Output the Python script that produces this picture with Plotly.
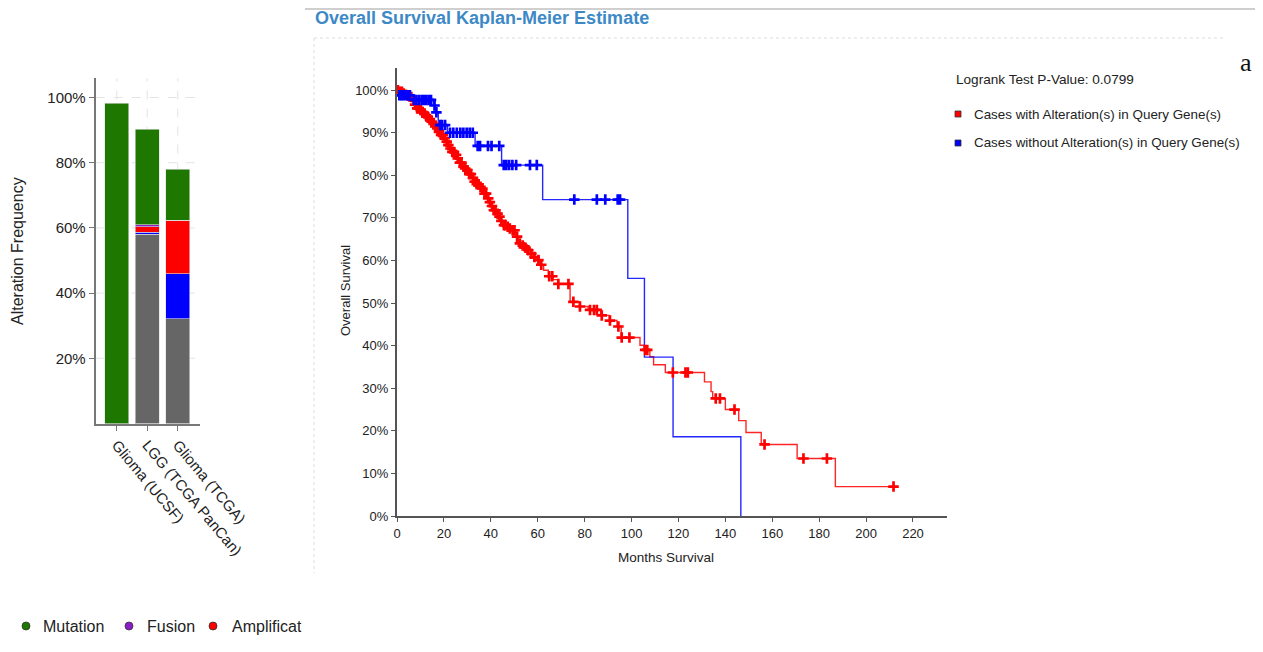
import plotly.graph_objects as go

W, H = 1263, 652
FONT = "Liberation Sans, Arial, sans-serif"

studies = ["Glioma (UCSF)", "LGG (TCGA PanCan)", "Glioma (TCGA)"]
multiple_alt = [0.0, 58.0, 32.1]
deep_deletion = [0.0, 0.6, 13.9]
amplification = [0.0, 1.8, 16.3]
fusion = [0.0, 0.5, 0.0]
mutation = [98.2, 29.3, 15.7]
freq_ticks = [20, 40, 60, 80, 100]

alt_event_months = [1.0, 2.5, 3.5, 4.5, 5.5, 6.5, 7.5, 8.4, 9.5, 10.5, 11.2, 12.3,
                    13.2, 14.1, 15.0, 16.0, 16.9, 17.8, 18.7, 19.7, 20.6, 21.6, 22.6,
                    23.5, 24.5, 25.5, 26.5, 27.6, 28.7, 29.7, 30.6, 31.6, 32.5, 33.7,
                    35.0, 36.1, 37.1, 38.2, 39.2, 40.1, 41.1, 42.2, 43.2, 44.2, 45.3,
                    46.5, 47.7, 48.9, 50.3, 51.7, 53.2, 54.2, 55.3, 57.0, 58.3, 59.6,
                    61.0, 62.5, 64.5, 66.5, 68.6, 73.8, 77.8, 81.5, 86.8, 90.5, 93.8,
                    95.6, 103.6, 105.3, 107.8, 109.4, 114.4, 131.1, 133.9, 134.6, 140.0,
                    145.7, 148.8, 155.3, 170.6, 186.9]
alt_survival = [99.6, 99.2, 98.9, 98.7, 98.4, 97.6, 96.6, 95.7, 95.3, 94.9, 94.5, 93.8,
                93.2, 92.6, 92.1, 91.5, 91.0, 90.2, 89.5, 88.7, 87.9, 87.1, 86.3,
                85.5, 84.8, 84.0, 83.0, 82.0, 81.6, 81.2, 80.3, 79.4, 78.5, 77.9,
                77.3, 76.9, 75.7, 74.6, 73.7, 72.8, 71.8, 71.0, 70.3, 69.3, 68.3,
                67.9, 67.5, 67.1, 65.6, 64.0, 63.5, 63.0, 62.4, 61.6, 60.8, 60.1,
                59.0, 57.7, 56.3, 55.5, 54.5, 50.3, 49.2, 48.4, 47.1, 45.9, 44.5,
                41.9, 40.1, 39.0, 37.4, 35.5, 33.7, 31.5, 29.2, 27.6, 25.0,
                22.4, 19.6, 16.8, 13.5, 6.9]
alt_censor_months = [0.4, 1.3, 2.1, 2.9, 3.8, 4.6, 5.3, 6.1, 7.0, 7.7, 8.6, 9.3, 10.1,
                     10.8, 11.7, 12.5, 13.1, 14.0, 14.8, 15.6, 16.3, 17.2, 17.9, 18.8,
                     19.5, 20.3, 21.2, 21.9, 22.8, 23.6, 24.3, 25.2, 25.9, 26.8, 27.5,
                     28.4, 29.1, 30.0, 30.8, 31.5, 32.4, 33.1, 34.0, 34.8, 35.6, 36.4,
                     37.3, 38.0, 38.9, 39.6, 40.5, 41.3, 42.0, 42.9, 43.7, 44.5, 45.6,
                     46.2, 47.2, 48.1, 49.3, 50.1, 51.2, 52.4, 53.6, 54.8, 56.0, 57.3,
                     58.6, 60.3, 61.5, 64.9, 66.2, 68.8, 73.1, 75.2, 78.0, 82.3, 84.0,
                     85.2, 87.3, 90.8, 94.4, 95.8, 99.1, 105.8, 106.7, 117.6, 123.0,
                     124.0, 135.9, 137.7, 143.9, 156.7, 173.3, 183.3, 211.7]

noalt_event_months = [0.6, 6.3, 15.5, 16.2, 17.6, 21.5, 33.3, 44.6, 62.1, 98.4,
                      105.5, 117.7, 146.6]
noalt_survival = [98.8, 97.7, 96.4, 94.8, 91.8, 90.0, 86.9, 82.4, 74.3, 55.8,
                  37.3, 18.6, 0.0]
noalt_censor_months = [1.0, 1.8, 2.6, 3.5, 4.5, 5.5, 7.2, 8.3, 9.5, 10.6, 11.5, 12.5,
                       13.5, 14.5, 16.0, 16.8, 18.4, 19.2, 20.5, 22.6, 24.0, 25.5,
                       27.0, 28.3, 29.7, 31.0, 32.3, 34.4, 35.4, 38.8, 40.3, 43.6,
                       45.5, 46.6, 47.8, 49.2, 50.8, 56.7, 59.6, 75.6, 85.2, 88.8,
                       94.1, 95.1]

month_ticks = list(range(0, 221, 20))
survival_ticks = list(range(0, 101, 10))

pvalue_text = "Logrank Test P-Value: 0.0799"
group_labels = ["Cases with Alteration(s) in Query Gene(s)",
                "Cases without Alteration(s) in Query Gene(s)"]
alteration_legend = ["Mutation", "Fusion", "Amplification"]

C_RED = "#ff0000"
C_BLUE = "#0000ff"
C_GREEN = "#1e7800"
C_GRAY = "#666666"
C_PURPLE = "#8a1fc9"
GRID = "#e4e4e4"


def fx(x):
    return x / W


def fy(y):
    return 1 - y / H


def step_path(events, surv, end=None):
    xs = [0.0] + list(events)
    ys = [100.0] + list(surv)
    if end is not None and end > xs[-1]:
        xs.append(end)
        ys.append(ys[-1])
    return xs, ys


def level_at(events, surv, times):
    # survival level in force at each censoring time
    out = []
    for t in times:
        lvl = 100.0
        for e, s in zip(events, surv):
            if e <= t:
                lvl = s
        out.append(lvl)
    return out


def pct(vals):
    return [f"{v}%" for v in vals]


fig = go.Figure()

for vals, color in [(multiple_alt, C_GRAY), (deep_deletion, C_BLUE),
                    (amplification, C_RED), (fusion, C_PURPLE), (mutation, C_GREEN)]:
    fig.add_trace(go.Bar(x=studies, y=vals,
                         marker=dict(color=color, line=dict(color="#dddddd", width=0.6)),
                         xaxis="x", yaxis="y", showlegend=False))

ax, ay = step_path(alt_event_months, alt_survival, end=max(alt_censor_months))
fig.add_trace(go.Scatter(x=ax, y=ay, mode="lines",
                         line=dict(color="rgba(255,0,0,0.85)", width=1.4, shape="hv"),
                         xaxis="x2", yaxis="y2", showlegend=False))
bx, by = step_path(noalt_event_months, noalt_survival)
fig.add_trace(go.Scatter(x=bx, y=by, mode="lines",
                         line=dict(color="rgba(0,0,255,0.85)", width=1.4, shape="hv"),
                         xaxis="x2", yaxis="y2", showlegend=False))
fig.add_trace(go.Scatter(x=alt_censor_months,
                         y=level_at(alt_event_months, alt_survival, alt_censor_months),
                         mode="markers",
                         marker=dict(symbol="cross-thin", size=7.5, color=C_RED,
                                     line=dict(color=C_RED, width=2.7)),
                         xaxis="x2", yaxis="y2", showlegend=False))
fig.add_trace(go.Scatter(x=noalt_censor_months,
                         y=level_at(noalt_event_months, noalt_survival, noalt_censor_months),
                         mode="markers",
                         marker=dict(symbol="cross-thin", size=7.5, color=C_BLUE,
                                     line=dict(color=C_BLUE, width=2.7)),
                         xaxis="x2", yaxis="y2", showlegend=False))

fig.update_layout(
    width=W, height=H, margin=dict(l=0, r=0, t=0, b=0, autoexpand=False),
    autosize=False,
    paper_bgcolor="white", plot_bgcolor="white",
    barmode="stack", bargap=0.22,
    font=dict(family=FONT, color="#222222"),
    xaxis=dict(domain=[fx(95.7), fx(200)], range=[-0.69, 2.73], anchor="y",
               tickangle=50, tickfont=dict(family=FONT, size=15, color="#222222"),
               showline=True, linecolor="#777777", linewidth=2, ticks="outside",
               ticklen=5, tickcolor="#777777", showgrid=False, zeroline=False),
    yaxis=dict(domain=[fy(423.5), fy(78.3)], range=[0, 105.9], anchor="x",
               tickmode="array", tickvals=freq_ticks, ticktext=pct(freq_ticks),
               tickfont=dict(family=FONT, size=15, color="#222222"),
               showline=True, linecolor="#777777", linewidth=2, ticks="outside",
               ticklen=5, tickcolor="#777777", showgrid=False, zeroline=False),
    xaxis2=dict(domain=[fx(397), fx(947)], range=[0, 234.5], anchor="y2",
                tickmode="array", tickvals=month_ticks,
                tickfont=dict(family=FONT, size=13, color="#222222"),
                showline=True, linecolor="#555555", linewidth=2, ticks="outside",
                ticklen=4, tickcolor="#555555", showgrid=False, zeroline=False),
    yaxis2=dict(domain=[fy(516), fy(68)], range=[0, 105.2], anchor="x2",
                tickmode="array", tickvals=survival_ticks, ticktext=pct(survival_ticks),
                tickfont=dict(family=FONT, size=13, color="#222222"),
                showline=True, linecolor="#555555", linewidth=2, ticks="outside",
                ticklen=4, tickcolor="#555555", showgrid=False, zeroline=False),
)

ann = [
    dict(text="<b>Overall Survival Kaplan-Meier Estimate</b>", x=fx(313), y=fy(18),
         xanchor="left", yanchor="middle",
         font=dict(family=FONT, size=18, color="#3d89c6")),
    dict(text="a", x=fx(1246), y=fy(62), xanchor="center", yanchor="middle",
         font=dict(family="Liberation Serif, DejaVu Serif, serif", size=26, color="#111111")),
    dict(text="Alteration Frequency", x=fx(17), y=fy(251), textangle=-90,
         xanchor="center", yanchor="middle", font=dict(family=FONT, size=16, color="#222222")),
    dict(text="Overall Survival", x=fx(345), y=fy(291), textangle=-90,
         xanchor="center", yanchor="middle", font=dict(family=FONT, size=13, color="#222222")),
    dict(text="Months Survival", x=fx(666), y=fy(557), xanchor="center", yanchor="middle",
         font=dict(family=FONT, size=13.5, color="#222222")),
    dict(text=pvalue_text, x=fx(954), y=fy(80), xanchor="left", yanchor="middle",
         font=dict(family=FONT, size=13.6, color="#222222")),
    dict(text=group_labels[0], x=fx(972), y=fy(114), xanchor="left", yanchor="middle",
         font=dict(family=FONT, size=13.4, color="#222222")),
    dict(text=group_labels[1], x=fx(972), y=fy(143), xanchor="left", yanchor="middle",
         font=dict(family=FONT, size=13.4, color="#222222")),
]
# alteration-type key below the bars
key_dot_x = [26, 129, 213]
key_text_x = [41, 145, 230]
for lbl, tx in zip(alteration_legend, key_text_x):
    ann.append(dict(text=lbl, x=fx(tx), y=fy(626), xanchor="left", yanchor="middle",
                    font=dict(family=FONT, size=16, color="#222222")))
# the left panel is cut off at its right edge
ann.append(dict(text=" ", x=fx(301), y=fy(626), xanchor="left", yanchor="middle",
                width=60, height=34, bgcolor="white", borderpad=0))
for a in ann:
    a.update(xref="paper", yref="paper", showarrow=False)
fig.update_layout(annotations=ann)

shapes = [
    dict(type="line", xref="paper", yref="paper", x0=fx(305), x1=fx(1255),
         y0=fy(9), y1=fy(9), line=dict(color="#cfcfcf", width=2)),
    dict(type="line", xref="paper", yref="paper", x0=fx(314), x1=fx(1225),
         y0=fy(38), y1=fy(38), line=dict(color="#dcdcdc", width=1, dash="dot")),
    dict(type="line", xref="paper", yref="paper", x0=fx(314), x1=fx(314),
         y0=fy(38), y1=fy(573), line=dict(color="#dcdcdc", width=1, dash="dot")),
]
# dashed grid of the frequency panel
for v in freq_ticks:
    shapes.append(dict(type="line", xref="x domain", yref="y", x0=0, x1=1, y0=v, y1=v,
                       line=dict(color=GRID, width=1, dash="dash")))
for s_name in studies:
    shapes.append(dict(type="line", xref="x", yref="y domain", x0=s_name, x1=s_name,
                       y0=0, y1=1, line=dict(color=GRID, width=1, dash="dash")))
# key symbols
for cx, col in zip(key_dot_x, [C_GREEN, C_PURPLE, C_RED]):
    shapes.append(dict(type="circle", xref="paper", yref="paper",
                       x0=fx(cx - 4), x1=fx(cx + 4), y0=fy(630), y1=fy(622),
                       fillcolor=col, line=dict(color="#333333", width=0.8)))
for cy, col in zip([114, 143], [C_RED, C_BLUE]):
    shapes.append(dict(type="rect", xref="paper", yref="paper",
                       x0=fx(955), x1=fx(961), y0=fy(cy + 3), y1=fy(cy - 3),
                       fillcolor=col, line=dict(color="#333333", width=0.8)))
for s in shapes:
    s["layer"] = "below"
fig.update_layout(shapes=shapes)

fig.write_html("out.html")
